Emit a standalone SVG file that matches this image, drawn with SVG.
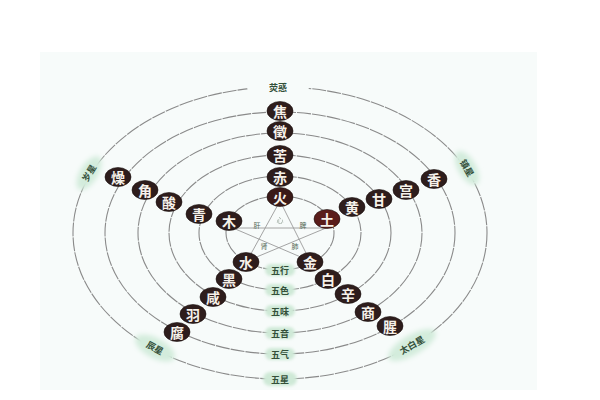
<svg xmlns="http://www.w3.org/2000/svg" width="600" height="400" viewBox="0 0 600 400">
<defs>
<filter id="soft" x="-30%" y="-50%" width="160%" height="200%"><feGaussianBlur stdDeviation="1.6"/></filter>
<filter id="glow" x="-30%" y="-60%" width="160%" height="220%"><feGaussianBlur stdDeviation="2.5"/></filter>
<style>
.ring{fill:none;stroke:#8a8a8a;stroke-width:1.1;stroke-dasharray:14 1}
.star{fill:none;stroke:#9a9a9a;stroke-width:0.9}
.nd ellipse{fill:#2e1d1c;stroke:#1a0f0e;stroke-width:0.6}
.nd text{fill:#f6f1ea;font-family:"Noto Sans CJK SC","Noto Sans CJK JP",sans-serif;font-size:14px;font-weight:bold;text-anchor:middle;dominant-baseline:central}
.lb text{fill:#34503a;font-family:"Noto Sans CJK SC","Noto Sans CJK JP",sans-serif;font-size:9px;font-weight:bold;text-anchor:middle;dominant-baseline:central}
.pill{fill:#cfe9d7;filter:url(#soft)}
.glowp{fill:#d3ecdc;filter:url(#glow)}
.gap{fill:#f7fbfa}
.org text{fill:#556a58;font-family:"Noto Sans CJK SC","Noto Sans CJK JP",sans-serif;font-size:7px;text-anchor:middle;dominant-baseline:central}
</style>
</defs>
<rect width="600" height="400" fill="#ffffff"/>
<rect x="40" y="52" width="497" height="338" fill="#f7fbfa"/>

<g id="rings">
<ellipse class="ring" cx="280" cy="233" rx="54" ry="37"/>
<ellipse class="ring" cx="280" cy="233" rx="81" ry="57"/>
<ellipse class="ring" cx="280" cy="233" rx="111" ry="78"/>
<ellipse class="ring" cx="280" cy="233" rx="142" ry="100"/>
<ellipse class="ring" cx="280" cy="233" rx="175" ry="121"/>
<ellipse class="ring" cx="280" cy="233" rx="207" ry="146"/>
</g>

<g id="connectors">
<polyline class="star" points="280,201 247,261 326,228 233,228 310,261 280,201"/>
</g>

<g id="organs" class="org">
<text x="280" y="220" opacity="0.6">心</text>
<text x="257" y="225">肝</text>
<text x="303" y="225">脾</text>
<text x="264" y="246">肾</text>
<text x="295" y="246">肺</text>
</g>

<g id="row-labels" class="lb">
<g id="lbl-wuxing"><rect class="pill" x="265" y="264" width="30" height="12" rx="6"/><text x="280" y="270">五行</text></g>
<g id="lbl-wuse"><rect class="pill" x="265" y="284" width="30" height="12" rx="6"/><text x="280" y="290">五色</text></g>
<g id="lbl-wuwei"><rect class="pill" x="265" y="305" width="30" height="12" rx="6"/><text x="280" y="311">五味</text></g>
<g id="lbl-wuyin"><rect class="pill" x="265" y="327" width="30" height="12" rx="6"/><text x="280" y="333">五音</text></g>
<g id="lbl-wuqi"><rect class="pill" x="265" y="348" width="30" height="12" rx="6"/><text x="280" y="354">五气</text></g>
<g id="lbl-wuxing-star"><rect class="pill" x="263" y="372" width="34" height="14" rx="7"/><text x="280" y="379">五星</text></g>
</g>

<g id="planets" class="lb">
<g id="p-yinghuo"><rect class="gap" x="247" y="80" width="62" height="14" rx="7"/><text x="278" y="87" font-size="11">荧惑</text></g>
<g id="p-suixing" transform="translate(89,173) rotate(-58)"><ellipse class="glowp" cx="0" cy="0" rx="19" ry="9"/><text x="0" y="0" font-size="11">岁星</text></g>
<g id="p-zhenxing" transform="translate(467,168) rotate(60)"><ellipse class="glowp" cx="0" cy="0" rx="19" ry="9"/><text x="0" y="0" font-size="11">镇星</text></g>
<g id="p-chenxing" transform="translate(155,348) rotate(28)"><ellipse class="glowp" cx="0" cy="0" rx="22" ry="10"/><text x="0" y="0" font-size="11">辰星</text></g>
<g id="p-taibai" transform="translate(412,345) rotate(-30)"><ellipse class="glowp" cx="0" cy="0" rx="27" ry="10"/><text x="0" y="0" font-size="11">太白星</text></g>
</g>

<g id="fire">
<g id="n-huo" class="nd"><ellipse cx="280" cy="197" rx="13" ry="9.5" style="fill:#3a1a18"/><text x="280" y="197">火</text></g>
<g id="n-chi" class="nd"><ellipse cx="280" cy="177" rx="13" ry="9.5"/><text x="280" y="177">赤</text></g>
<g id="n-ku" class="nd"><ellipse cx="280" cy="155" rx="13" ry="9.5"/><text x="280" y="155">苦</text></g>
<g id="n-zhi" class="nd"><ellipse cx="280" cy="131" rx="13" ry="9.5"/><text x="280" y="131">徵</text></g>
<g id="n-jiao" class="nd"><ellipse cx="280" cy="111" rx="13" ry="9.5"/><text x="280" y="111">焦</text></g>
</g>

<g id="earth">
<g id="n-tu" class="nd"><ellipse cx="327" cy="219" rx="13" ry="9.5" style="fill:#5a1d1b"/><text x="327" y="219">土</text></g>
<g id="n-huang" class="nd"><ellipse cx="352" cy="207" rx="13" ry="9.5"/><text x="352" y="207">黄</text></g>
<g id="n-gan" class="nd"><ellipse cx="379" cy="199" rx="13" ry="9.5"/><text x="379" y="199">甘</text></g>
<g id="n-gong" class="nd"><ellipse cx="406" cy="190" rx="13" ry="9.5"/><text x="406" y="190">宫</text></g>
<g id="n-xiang" class="nd"><ellipse cx="434" cy="179" rx="13" ry="9.5"/><text x="434" y="179">香</text></g>
</g>

<g id="wood">
<g id="n-mu" class="nd"><ellipse cx="229" cy="221" rx="13" ry="9.5"/><text x="229" y="221">木</text></g>
<g id="n-qing" class="nd"><ellipse cx="199" cy="214" rx="13" ry="9.5"/><text x="199" y="214">青</text></g>
<g id="n-suan" class="nd"><ellipse cx="169" cy="202" rx="13" ry="9.5"/><text x="169" y="202">酸</text></g>
<g id="n-jue" class="nd"><ellipse cx="145" cy="190" rx="13" ry="9.5"/><text x="145" y="190">角</text></g>
<g id="n-zao" class="nd"><ellipse cx="118" cy="177" rx="13" ry="9.5"/><text x="118" y="177">燥</text></g>
</g>

<g id="water">
<g id="n-shui" class="nd"><ellipse cx="246" cy="262" rx="13" ry="9.5"/><text x="246" y="262">水</text></g>
<g id="n-hei" class="nd"><ellipse cx="229" cy="279" rx="13" ry="9.5"/><text x="229" y="279">黑</text></g>
<g id="n-xian" class="nd"><ellipse cx="213" cy="297" rx="13" ry="9.5"/><text x="213" y="297">咸</text></g>
<g id="n-yu" class="nd"><ellipse cx="193" cy="314" rx="13" ry="9.5"/><text x="193" y="314">羽</text></g>
<g id="n-fu" class="nd"><ellipse cx="177" cy="332" rx="13" ry="9.5"/><text x="177" y="332">腐</text></g>
</g>

<g id="metal">
<g id="n-jin" class="nd"><ellipse cx="310" cy="262" rx="13" ry="9.5"/><text x="310" y="262">金</text></g>
<g id="n-bai" class="nd"><ellipse cx="328" cy="279" rx="13" ry="9.5"/><text x="328" y="279">白</text></g>
<g id="n-xin" class="nd"><ellipse cx="348" cy="294" rx="13" ry="9.5"/><text x="348" y="294">辛</text></g>
<g id="n-shang" class="nd"><ellipse cx="368" cy="312" rx="13" ry="9.5"/><text x="368" y="312">商</text></g>
<g id="n-xing" class="nd"><ellipse cx="390" cy="326" rx="13" ry="9.5"/><text x="390" y="326">腥</text></g>
</g>
</svg>
